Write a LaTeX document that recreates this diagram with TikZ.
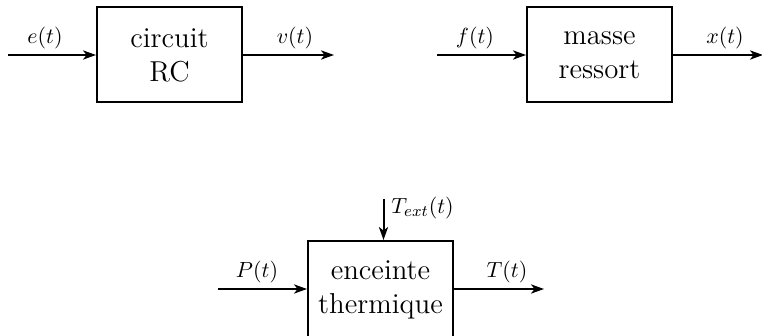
\documentclass[tikz,border=0pt]{standalone}
\usetikzlibrary{arrows.meta}
\begin{document}
\begin{tikzpicture}[x=0.5pt,y=-0.5pt,
  blockbox/.style={draw, line width=1pt, minimum width=72.5pt, minimum height=47.5pt, inner sep=0pt, align=center, font=\fontsize{14.4}{17}\selectfont},
  sig/.style={line width=1pt, -{Stealth[length=6.5pt,width=4.6pt,inset=1.8pt]}},
  lbl/.style={inner sep=0pt, font=\fontsize{11}{13}\selectfont}]
\useasboundingbox (0,0) rectangle (762,336);
% block 1
\node[blockbox] (b1) at (169.5,55) {circuit\\RC};
\coordinate (i1) at (8,55);
\coordinate (o1) at (334,55);
\draw[sig] (i1) -- (b1.west);
\draw[sig] (b1.east) -- (o1);
\node[lbl] (le) at (45,38) {$e(t)$};
\node[lbl] (lv) at (295,38) {$v(t)$};
% block 2
\node[blockbox] (b2) at (599.5,55) {masse\\ressort};
\coordinate (i2) at (437,55);
\coordinate (o2) at (763,55);
\draw[sig] (i2) -- (b2.west);
\draw[sig] (b2.east) -- (o2);
\node[lbl] (lf) at (475,38) {$f(t)$};
\node[lbl] (lx) at (725,38) {$x(t)$};
% block 3
\node[blockbox, minimum height=49pt] (b3) at (380.5,290) {enceinte\\thermique};
\coordinate (i3) at (218,289);
\coordinate (o3) at (544,289);
\coordinate (t0) at (383.5,199);
\draw[sig] (i3) -- (i3 -| b3.west);
\draw[sig] (o3 -| b3.east) -- (o3);
\draw[sig] (t0) -- (t0 |- b3.north);
\node[lbl] (lp) at (257,272) {$P(t)$};
\node[lbl] (lt) at (507,272) {$T(t)$};
\node[lbl, anchor=west] (lext) at (391,208) {$T_{ext}(t)$};
\end{tikzpicture}
\end{document}
